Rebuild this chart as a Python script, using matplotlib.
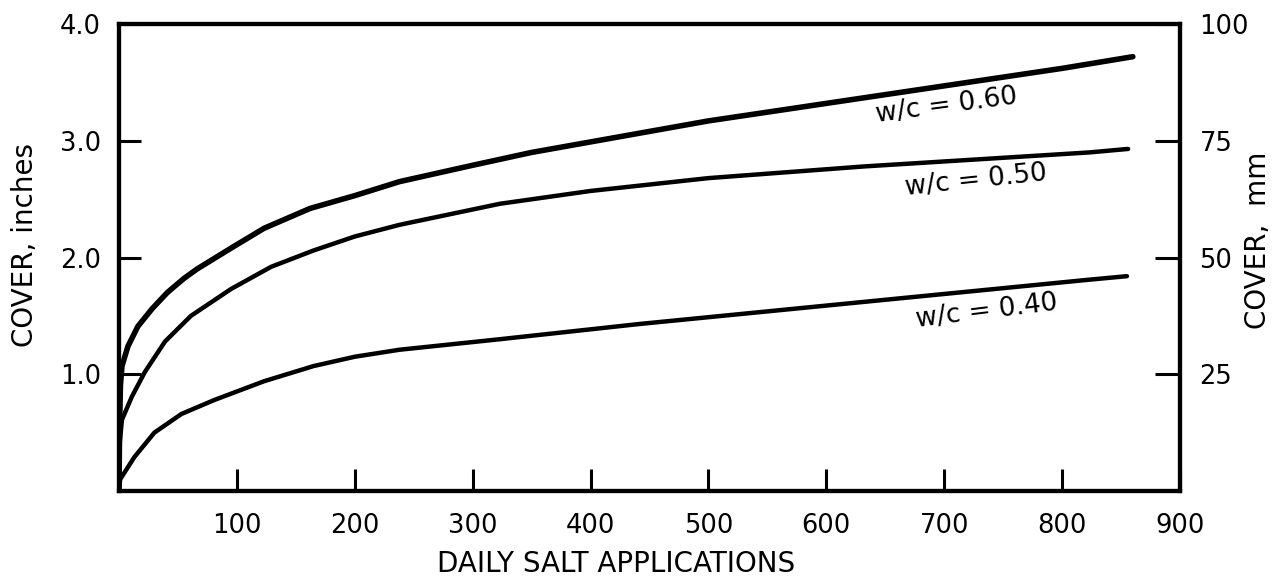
import matplotlib
matplotlib.use("Agg")
import matplotlib.pyplot as plt

# ------------------------------------------------------------------
# data (cover in inches vs daily salt applications)
# ------------------------------------------------------------------
x_060 = [0, 0.5, 1.2, 2.5, 7.6, 16, 28, 41, 55, 66, 95, 123, 162, 200, 238,
         300, 350, 400, 500, 600, 700, 800, 860]
y_060 = [0, 0.55, 0.9, 1.07, 1.24, 1.41, 1.56, 1.70, 1.82, 1.90, 2.08, 2.25, 2.42,
         2.53, 2.65, 2.79, 2.90, 2.99, 3.17, 3.32, 3.47, 3.62, 3.72]

x_050 = [0, 0.3, 2.5, 11, 22, 39, 61, 95, 129, 165, 200, 238, 323, 400,
         500, 632, 823, 856]
y_050 = [0, 0.38, 0.61, 0.81, 1.02, 1.28, 1.50, 1.73, 1.92, 2.06, 2.18, 2.28,
         2.46, 2.57, 2.68, 2.78, 2.90, 2.93]

x_040 = [0, 1, 13, 30, 53, 81, 123, 165, 200, 238, 323, 441, 632, 823, 855]
y_040 = [0, 0.1, 0.29, 0.5, 0.66, 0.78, 0.94, 1.07, 1.15, 1.21, 1.30, 1.43,
         1.62, 1.81, 1.84]

curve_labels = ["w/c = 0.60", "w/c = 0.50", "w/c = 0.40"]
label_pos = [(702, 3.30), (727, 2.66), (736, 1.54)]
label_rot = [7.5, 6.0, 7.0]

x_ticks = [100, 200, 300, 400, 500, 600, 700, 800, 900]
y_ticks = [1, 2, 3, 4]
y_ticklabels = ["1.0", "2.0", "3.0", "4.0"]
mm_ticks = [25, 50, 75, 100]

W, H = 1282, 579
fig = plt.figure(figsize=(W / 100, H / 100), dpi=100)
ax = fig.add_axes([119 / W, 1 - 491 / H, (1180 - 119) / W, (491 - 24) / H])
ax2 = ax.twinx()

ax.plot(x_060, y_060, color="black", lw=4.0, solid_joinstyle="round", solid_capstyle="round")
ax.plot(x_050, y_050, color="black", lw=3.2, solid_joinstyle="round", solid_capstyle="round")
ax.plot(x_040, y_040, color="black", lw=3.2, solid_joinstyle="round", solid_capstyle="round")

for txt, (lx, ly), rot in zip(curve_labels, label_pos, label_rot):
    ax.text(lx, ly, txt, ha="center", va="center", rotation=rot, fontsize=19)

ax.set_xlim(0, 900)
ax.set_ylim(0, 4)
ax2.set_ylim(0, 100)

ax.set_xticks(x_ticks)
ax.set_yticks(y_ticks)
ax.set_yticklabels(y_ticklabels)
ax2.set_yticks(mm_ticks)

ax.tick_params(axis="x", direction="in", length=16, width=2.2, pad=16, labelsize=18.5)
ax.tick_params(axis="y", direction="in", length=16, width=2.2, pad=13, labelsize=18.5)
ax2.tick_params(axis="y", direction="in", length=18, width=2.2, pad=14, labelsize=18.5)

for a in (ax, ax2):
    for sp in a.spines.values():
        sp.set_linewidth(3)

fig.text(33 / W, 1 - 245 / H, "COVER, inches", rotation=90, rotation_mode="anchor",
         ha="center", va="baseline", fontsize=20)
fig.text(1266 / W, 1 - 240 / H, "COVER,  mm", rotation=90, rotation_mode="anchor",
         ha="center", va="baseline", fontsize=20)
fig.text(616 / W, 1 - 572 / H, "DAILY SALT APPLICATIONS", ha="center", va="baseline",
         fontsize=20)

fig.savefig("out.png", dpi=100)
plt.close(fig)
